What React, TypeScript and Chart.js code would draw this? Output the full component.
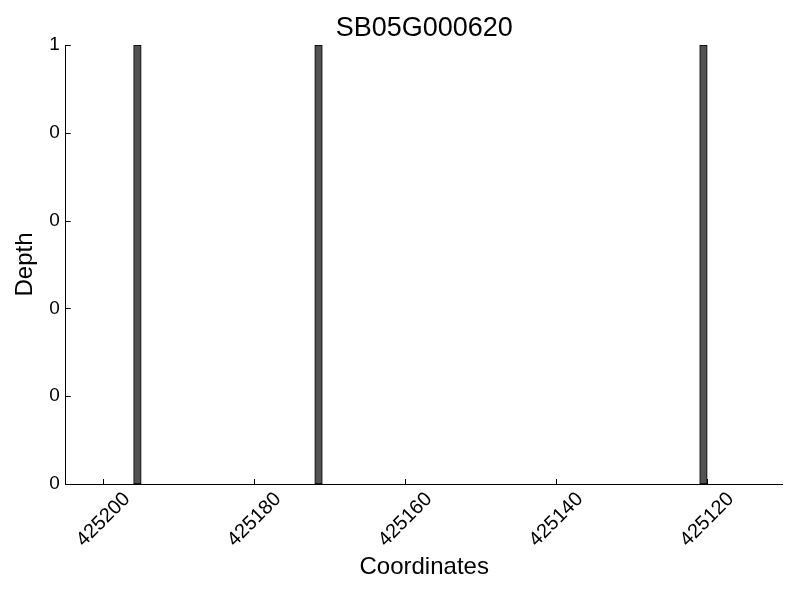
import React, { useEffect, useRef } from 'react';
import { Chart, registerables } from 'chart.js';

Chart.register(...registerables);

const chartTitle = 'SB05G000620';
const xAxisTitle = 'Coordinates';
const yAxisTitle = 'Depth';

// coverage bins (start coordinate of each 1-bp bin) and their depth
const binStarts = [425195, 425171, 425120];
const depths = [1, 1, 1];
const binWidth = 1;

const xMin = 425110;
const xMax = 425205;
const xTickValues = [425200, 425180, 425160, 425140, 425120];
const xTickLabels = ['425200', '425180', '425160', '425140', '425120'];
const yTickValues = [0, 0.2, 0.4, 0.6, 0.8, 1];
const yTickLabels = ['0', '0', '0', '0', '0', '1'];

const FONT = '"Liberation Sans", Arial, Helvetica, sans-serif';

const axisDecor = {
  id: 'axisDecor',
  afterDraw(chart: any) {
    const { ctx, chartArea, scales } = chart;
    const x = scales.x;
    const y = scales.y;
    ctx.save();
    ctx.strokeStyle = '#000';
    ctx.lineWidth = 1;
    ctx.beginPath();
    x.ticks.forEach((t: any) => {
      const px = Math.round(x.getPixelForValue(t.value)) + 0.5;
      ctx.moveTo(px, chartArea.bottom);
      ctx.lineTo(px, chartArea.bottom - 5);
    });
    y.ticks.forEach((t: any) => {
      const py = Math.round(y.getPixelForValue(t.value)) + 0.5;
      ctx.moveTo(chartArea.left, py);
      ctx.lineTo(chartArea.left + 5, py);
    });
    ctx.stroke();

    const size = 20;
    ctx.font = `${size}px ${FONT}`;
    ctx.fillStyle = '#000';
    ctx.textAlign = 'center';
    ctx.textBaseline = 'middle';
    x.ticks.forEach((t: any) => {
      const label = String(t.label ?? '');
      const w = ctx.measureText(label).width;
      const h = 0.716 * size;
      const half = (w + h) / (2 * Math.SQRT2);
      const px = x.getPixelForValue(t.value);
      ctx.save();
      ctx.translate(px, chartArea.bottom + 7 + half);
      ctx.rotate(-Math.PI / 4);
      ctx.fillText(label, 0, 0);
      ctx.restore();
    });
    ctx.restore();
  },
};

export default function App() {
  const ref = useRef<HTMLCanvasElement>(null);

  useEffect(() => {
    if (!ref.current) return;
    const chart = new Chart(ref.current, {
      type: 'bar',
      data: {
        datasets: [
          {
            label: 'Depth',
            data: binStarts.map((s, i) => ({ x: s + binWidth / 2, y: depths[i] })),
            backgroundColor: '#525252',
            borderColor: '#000000',
            borderWidth: 1,
            borderSkipped: false,
            barThickness: (c: any) => {
              const sx = c.chart.scales && c.chart.scales.x;
              if (!sx) return 8;
              return Math.abs(
                sx.getPixelForValue(binStarts[0] + binWidth) - sx.getPixelForValue(binStarts[0])
              );
            },
          } as any,
        ],
      },
      options: {
        responsive: false,
        animation: false,
        layout: { padding: { left: 0, right: 17.3, top: 0, bottom: 0 } },
        scales: {
          x: {
            type: 'linear',
            reverse: true,
            min: xMin,
            max: xMax,
            offset: false,
            afterBuildTicks: (s: any) => {
              s.ticks = xTickValues.map((v) => ({ value: v }));
            },
            ticks: {
              display: false,
              callback: (v: any) => xTickLabels[xTickValues.indexOf(Number(v))],
            },
            grid: { display: false, drawTicks: false, offset: false },
            border: { display: true, color: '#000', width: 1 },
            title: {
              display: true,
              text: xAxisTitle,
              color: '#000',
              font: { family: FONT, size: 24, weight: 'normal' },
              padding: { top: 0, bottom: 18.6 },
            },
            afterFit: (s: any) => {
              s.height = 116;
            },
          },
          y: {
            type: 'linear',
            min: 0,
            max: 1,
            afterBuildTicks: (s: any) => {
              s.ticks = yTickValues.map((v) => ({ value: v }));
            },
            ticks: {
              color: '#000',
              font: { family: FONT, size: 19 },
              padding: 6,
              callback: (v: any) => yTickLabels[yTickValues.indexOf(Number(v))],
            },
            grid: { display: false, drawTicks: false },
            border: { display: true, color: '#000', width: 1 },
            title: {
              display: true,
              text: yAxisTitle,
              color: '#000',
              font: { family: FONT, size: 24, weight: 'normal' },
              padding: { top: 10.6, bottom: 0 },
            },
            afterFit: (s: any) => {
              s.width = 65.7;
            },
          },
        } as any,
        plugins: {
          legend: { display: false },
          tooltip: { enabled: false },
          title: {
            display: true,
            text: chartTitle,
            color: '#000',
            fullSize: false,
            font: { family: FONT, size: 27, weight: 'normal' },
            padding: { top: 12.6, bottom: 0 },
          },
        },
      },
      plugins: [axisDecor],
    } as any);
    return () => chart.destroy();
  }, []);

  return (
    <div style={{ position: 'fixed', left: 0, top: 0, width: 800, height: 600, background: '#fff' }}>
      <canvas ref={ref} width={800} height={600} style={{ display: 'block' }} />
    </div>
  );
}
